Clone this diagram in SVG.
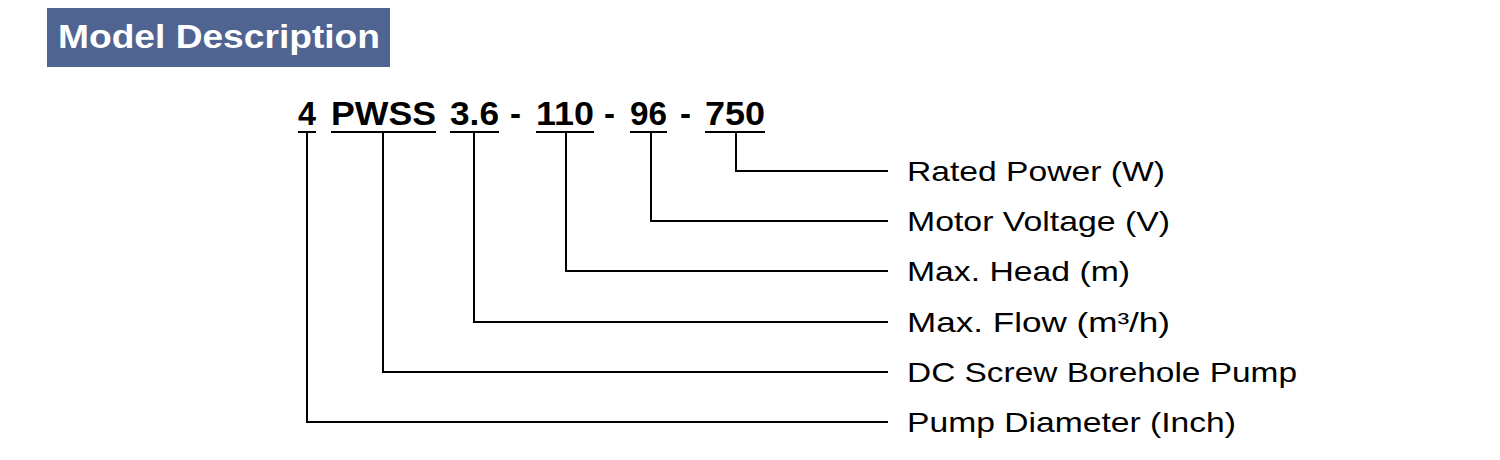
<svg xmlns="http://www.w3.org/2000/svg" width="1500" height="460" viewBox="0 0 1500 460">
<style>
.l{stroke:#000;stroke-width:2;fill:none}
.c{font-family:"Liberation Sans",Arial,sans-serif;font-weight:bold;font-size:33px;fill:#000}
.t{font-family:"Liberation Sans",Arial,sans-serif;font-size:28px;fill:#000}
</style>
<rect width="1500" height="460" fill="#fff"/>
<g id="title"><rect x="47" y="8" width="343" height="59" fill="#4f6491"/>
<text x="58" y="48" font-family="Liberation Sans,Arial,sans-serif" font-weight="bold" font-size="33" fill="#fff" textLength="322" lengthAdjust="spacingAndGlyphs">Model Description</text></g>
<g id="code">
<text class="c" x="298" y="125" textLength="18" lengthAdjust="spacingAndGlyphs">4</text>
<text class="c" x="331" y="125" textLength="105" lengthAdjust="spacingAndGlyphs">PWSS</text>
<text class="c" x="450" y="125" textLength="49" lengthAdjust="spacingAndGlyphs">3.6</text>
<text class="c" x="510" y="125">-</text>
<text class="c" x="536" y="125" textLength="58" lengthAdjust="spacingAndGlyphs">110</text>
<text class="c" x="604" y="125">-</text>
<text class="c" x="630" y="125" textLength="37" lengthAdjust="spacingAndGlyphs">96</text>
<text class="c" x="680" y="125">-</text>
<text class="c" x="705" y="125" textLength="60" lengthAdjust="spacingAndGlyphs">750</text>
</g>
<g id="connectors" class="l">
<path d="M298 132H316M331 132H436M450 132H499M536 132H594M630 132H667M705 132H765"/>
<path d="M736 132V171H888"/>
<path d="M651 132V221H888"/>
<path d="M566 132V271H888"/>
<path d="M474 132V322H888"/>
<path d="M383 132V372H888"/>
<path d="M307 132V422H888"/>
</g>
<g id="n1"><text class="t" x="907" y="181" textLength="258" lengthAdjust="spacingAndGlyphs">Rated Power (W)</text></g>
<g id="n2"><text class="t" x="907" y="231" textLength="263" lengthAdjust="spacingAndGlyphs">Motor Voltage (V)</text></g>
<g id="n3"><text class="t" x="907" y="281" textLength="223" lengthAdjust="spacingAndGlyphs">Max. Head (m)</text></g>
<g id="n4"><text class="t" x="907" y="332" textLength="263" lengthAdjust="spacingAndGlyphs">Max. Flow (m³/h)</text></g>
<g id="n5"><text class="t" x="907" y="382" textLength="390" lengthAdjust="spacingAndGlyphs">DC Screw Borehole Pump</text></g>
<g id="n6"><text class="t" x="907" y="432" textLength="329" lengthAdjust="spacingAndGlyphs">Pump Diameter (Inch)</text></g>
</svg>
